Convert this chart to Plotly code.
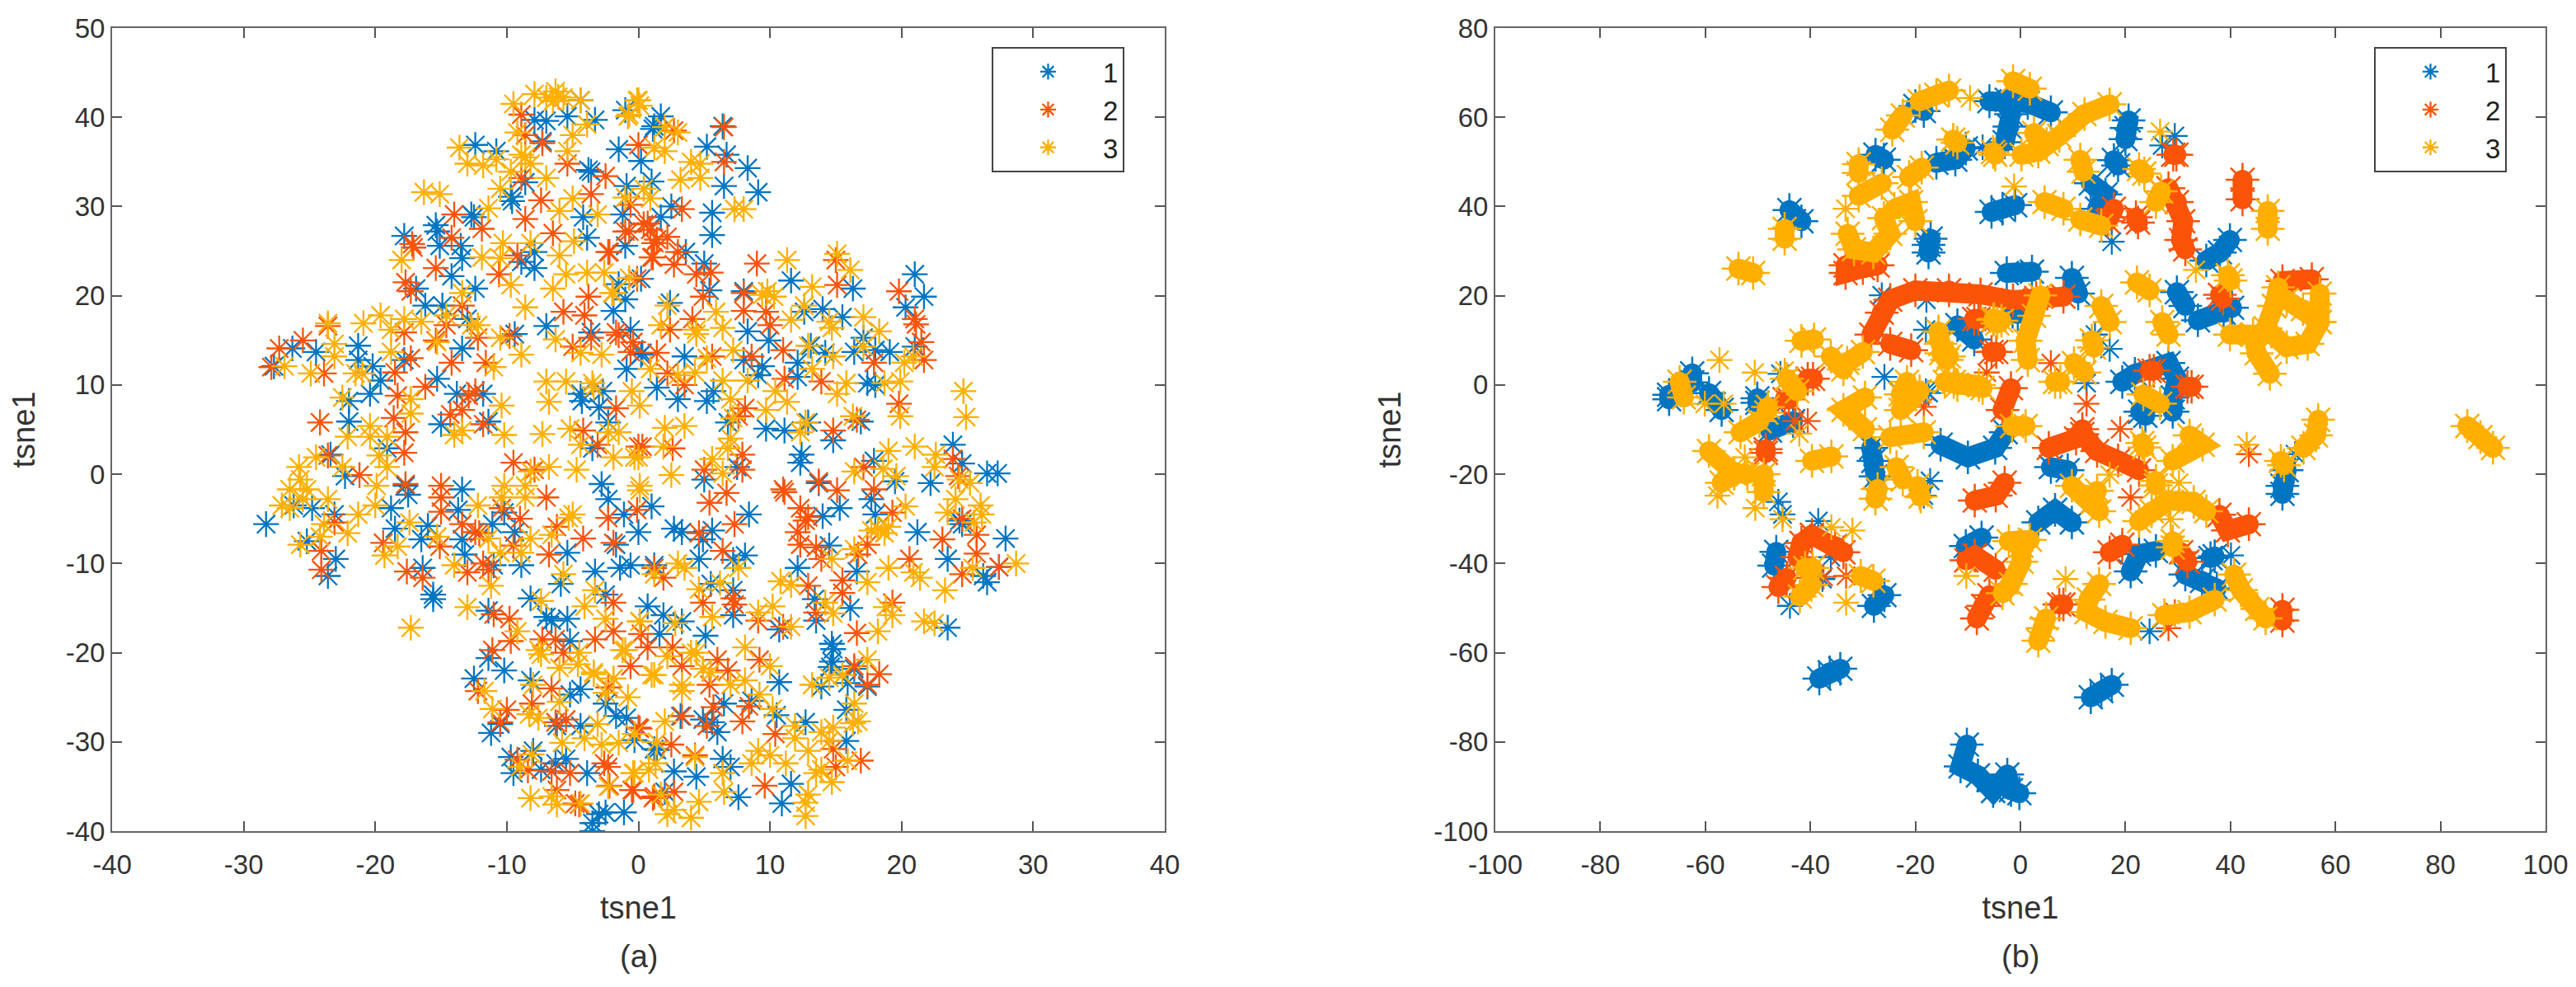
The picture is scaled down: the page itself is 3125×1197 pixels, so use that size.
import plotly.graph_objects as go

BLUE, RED, YEL = "#0075C2", "#FB5308", "#FFAF00"
NAMES = ["1", "2", "3"]
X_TICKS_A = list(range(-40, 41, 10)); Y_TICKS_A = list(range(-40, 51, 10))
X_TICKS_B = list(range(-100, 101, 20)); Y_TICKS_B = list(range(-100, 81, 20))

a_blue = [(-12.4,36.9),(-10.8,36.2),(-7.9,39.7),(-7,39.6),(-5.4,40.1),(-4.4,41.9),(-3.3,39.7),(-1,40.8),(-7.3,37.3),(-3.8,34.1),(-3.6,33.9),(-9.7,31.1),(-9.6,30.6),(-8.6,32.7),(-12.7,29.1),(-12.5,28.8),(-15.4,27.9),(-15.3,27.2),(-17.8,26.7),(-15.1,25.6),(-13.5,25.6),(-13.4,24.2),(-7.9,24.9),(-7.9,23.1),(-8.9,23.8),(-14.2,22.2),(-12.4,20.8),(-16.9,20.8),(-16.2,18.9),(-14.9,18.9),(-13,17.4),(-13.4,14.1),(-21.3,14.4),(-21.3,12.8),(-20.2,12.1),(-19.6,10.5),(-20.4,9),(-24.5,13.7),(-26.3,14.1),(-27.7,12.1),(-17.8,12.8),(-15.3,10.7),(-13.8,9),(-11.8,9),(-22,8.2),(-22,5.9),(-15,5.6),(-11.4,5.9),(-9.4,15.7),(-19.1,2.9),(-23.4,2.2),(-22.3,-0.2),(-17.7,-1.3),(-13.4,-1.7),(-7,16.6),(-3.6,15.9),(-0.6,16.2),(0.2,13.4),(-0.9,11.8),(-4.4,9),(-4.3,8.2),(-2.7,9.3),(-3,7.5),(-2.3,5.8),(-3.5,2.9),(-2.8,-1.1),(-1.5,21.3),(0.2,21.9),(-1,19.6),(-1.9,18.3),(-1,25.6),(-3.9,26.5),(-4.2,28.8),(-1.2,29.1),(-0.9,32.3),(1,32.8),(-1.5,36.4),(0.2,35.1),(1.2,39),(1.7,40.1),(1.1,38.7),(6.4,39),(5.2,36.7),(6.7,35.8),(8.3,34.3),(6.5,32.3),(9.1,31.6),(5.6,29.3),(5.6,26.8),(2.5,30),(1.7,28.8),(3.6,24.9),(5,23.6),(5.4,20.6),(11.6,21.7),(21,22.4),(21.7,19.9),(20.3,18.7),(16.3,20.8),(8,20.5),(12.6,18.2),(15.5,17.6),(14,18.5),(2.4,19.2),(8.3,16),(9.9,15),(3.5,13.2),(0.3,13.6),(8,12.8),(9.4,12.1),(12.1,12.5),(12.1,10.9),(9.1,11.1),(13.1,14.4),(14.2,13.6),(17.1,15.3),(16.4,13.7),(18,13.9),(19.1,13.7),(21,14.3),(17.4,10.2),(18,10),(1.4,9.7),(3,8.4),(5.2,8.2),(5.7,9.3),(6.8,5.8),(9.7,5.1),(11.1,4.9),(12.9,5.8),(14.8,3.8),(16.9,5.9),(12.4,2.2),(12.3,1.3),(17.9,1.5),(19.5,-0.8),(23.9,3.3),(24.6,1.2),(26.5,0.1),(27.3,0.1),(7.5,0.8),(5,-0.6),(22.2,-1),(13.7,-1),
(-28.3,-5.6),(-25.2,-7.5),(-26.2,-3.5),(-24.8,-3.8),(-23,-9.5),(-23.6,-11.4),(-23.1,-4.5),(-18.8,-3.8),(-18.5,-6.1),(-17.5,-2.3),(-16,-5.8),(-16.5,-7.3),(-16.4,-10.5),(-15.6,-13.5),(-15.6,-14),(-13.7,-4),(-13.4,-7.3),(-13.2,-9),(-11.1,-5.6),(-11,-10.2),(-9.4,-6.5),(-10.2,-4.3),(-8.9,-10.2),(-11.4,-15.3),(-11.4,-20.6),(-10.2,-22),(-12.5,-22.9),(-8.2,-13.9),(-7,-16),(-6.6,-16.4),(-5.4,-16.2),(-5.2,-18.7),(-5.4,-8.8),(-5.9,-12.3),(-3.3,-10.9),(-1.4,-10.5),(-0.6,-10.2),(-2.5,-13.5),(0.7,-14.8),(-1.7,-7.9),(-1.1,-4.5),(0,-6.5),(1,-3.6),(-2.3,-2.8),(-8.2,-23.1),(-4.4,-24.1),(-5.2,-24.7),(-2.5,-25.7),(-1.7,-27.1),(-0.9,-27.3),(-4.4,-28.2),(-6.2,-28.2),(-11.2,-29),(-10.5,-28),(-0.3,-29.8),(1.2,-30.8),(-9.7,-31.7),(-8,-31),(-9.5,-33.5),(-7.4,-33.1),(-6.3,-32.4),(-5.5,-31.9),(-3.9,-33.5),(-2.5,-37.9),(-3,-38.1),(-1.1,-37.9),(-3.5,-39.1),(-3.5,-40),
(8.4,-4.5),(2.7,-6.1),(3.3,-6.5),(4.9,-7.3),(5.6,-6.3),(7.2,-9.6),(8.1,-9.1),(4.6,-9.5),(1.2,-10.2),(5.5,-12.3),(7.2,-13),(1.9,-15.8),(7.2,-15.8),(3.3,-16.5),(1.6,-17.9),(5.1,-18.1),(12.1,-10.5),(13.4,-14),(16.1,-15),(13.5,-16.4),(10.7,-17.4),(14,-4.7),(15.3,-3.8),(17.7,-2.8),(18,-4.5),(14.5,-8),(16.6,-10.9),(21.2,-6.5),(23.5,-9.5),(24.4,-5.2),(24.6,-5.6),(26.2,-11.4),(26.5,-12.1),(27.9,-7.2),(27.4,-10.4),(23.5,-17.2),(14.7,-19),(14.8,-19.6),(14.7,-21),(14.6,-21.6),(13.9,-23.8),(10.7,-23.3),(15.9,-23.4),(17.4,-23.8),(16.4,-21.8),(15.8,-26.4),(12.7,-27.8),(10.5,-27),(8.6,-25.4),(6.5,-25.7),(3.2,-27.1),(4.9,-27.5),(5.6,-27.8),(6,-28.9),(15.8,-29.9),(1.4,-30.9),(6.4,-31.9),(7,-32.8),(2.7,-33.3),(4.4,-33.9),(11.6,-34.7),(10.9,-36.9),(7.6,-36.2),(2,-35.6)]

a_red = [(-8.9,40.3),(-7.3,37.1),(-8.6,38),(-5.4,34.8),(-8.9,33.2),(-7.4,30.7),(-3.6,31.4),(-2.5,33.4),(-0.6,30.2),(0.7,28.1),(-0.7,27.2),(1.2,25.9),(1,24.3),(-2.2,24.9),(-6.5,27),(-8.6,28.6),(-14,29.1),(-11.9,27.5),(-14.2,26.5),(-17.2,25.8),(-17.1,25.4),(-15.4,23.1),(-9.2,24.5),(-10.6,22.4),(-17.7,21.5),(-17.3,20.5),(-13.4,18.9),(-14.6,16.7),(-17.8,15.9),(-15.4,15),(-12.2,15.3),(-9.8,15.5),(-23.6,16.6),(-25.5,15),(-27.3,14.1),(-27.9,12),(-23.9,11.3),(-18.5,11.4),(-17.3,13),(-14.2,12.5),(-11.6,12.5),(-12.4,9.3),(-12.9,8.8),(-16.2,9.8),(-18.3,8.8),(-13.4,7.2),(-14.3,6.7),(-18.6,6.3),(-17.7,4.7),(-17.8,2.4),(-11.8,5.6),(-24.2,5.8),(-23.6,2.1),(-9.5,1.3),(-21.2,-0.1),(-17.7,-1.1),(-15,-1.3),(-7.9,0.5),(-5.7,18.2),(-4.1,17.8),(-3.8,19.9),(-0.1,21.9),(-1.7,15.9),(-1.5,15.6),(-3.6,15.3),(-5,14.3),(-0.6,13.7),(-1.7,7.4),(-4.2,4.9),(0,3.1),(-3.1,3.3),(0,36.9),(6.5,38.9),(2.7,38.5),(6.5,35),(3.3,29.7),(0.4,28),(-1,27.2),(0.9,27.4),(1.4,26.3),(2.2,26.6),(1.1,24.3),(3,24.9),(2.7,23.5),(4.4,22.4),(5.5,22.6),(-2.3,24.9),(9,23.6),(15,24),(15.1,21.2),(4.9,19.9),(8,20.3),(19.8,20.5),(21,17.4),(21.1,16.8),(8,18.3),(9.7,18.2),(10,16.7),(4.1,17.4),(2.4,16.2),(-0.4,14.8),(1.4,13.6),(5.6,13.2),(8.6,13.2),(11,13.9),(17.9,12.5),(21.5,14.8),(21.7,12.8),(2.2,11.3),(3.5,10),(11.1,10.7),(13.9,10.4),(8.1,7.4),(19.8,7.9),(7.6,6.5),(14.8,4.9),(16.6,6.1),(0.3,3.1),(2.6,2.9),(7.9,2.2),(7.9,0.5),(23.9,1.7),(17.1,0.8),(5,0.5),(13.7,-0.8),(15.1,-1.8),(11,-1.7),(17.9,-1.7),(24.3,-0.2),
(-23.1,-5.4),(-24.1,-8.6),(-24.1,-10.7),(-19.4,-7.7),(-17.6,-10.9),(-16.4,-11.6),(-15.1,-8.1),(-15,-4.2),(-15,-2.6),(-13.4,-5.6),(-12.4,-6.5),(-12.1,-6.6),(-11.8,-10),(-11.4,-10.7),(-13,-11),(-10.4,-3.8),(-9,-5),(-9.5,-8),(-11,-15.7),(-9.8,-16.2),(-9.7,-18.7),(-11.1,-19.7),(-12.2,-24.3),(-10,-26.4),(-10.5,-27.8),(-8.1,-25.7),(-6.6,-24),(-5.5,-27.5),(-6.3,-27.8),(-9.2,-32),(-8.4,-33.2),(-6.6,-33.3),(-5.2,-33.5),(-6.2,-35.4),(-4.8,-36.9),(-2.3,-32.8),(-2.2,-34.9),(-0.4,-35.4),(1.2,-36.1),(0.1,-28.5),(-0.6,-21.5),(-2.3,-23.9),(0.7,-19.4),(0.2,-17.9),(-1.9,-17.6),(-3.3,-18.5),(-1.9,-14.4),(-7.3,-18.5),(-6.3,-18.5),(-5.7,-20),(-6.8,-9),(-4.2,-7.2),(-6.2,-5.9),(-2.3,-4.9),(-0.1,-4),(-1.9,-7.7),(1.2,-10.5),(-7,-2.6),
(1.9,-11.6),(2.6,-19.4),(3.3,-21.5),(6,-20.8),(6.8,-22),(5.4,-23.6),(4.9,-14.4),(7.2,-13.9),(7.3,-14.6),(6.7,-2.1),(5.4,-3.2),(4.6,-6.6),(6.4,-8.6),(7.3,-5.6),(11.1,-2),(12.3,-3.8),(12.7,-5.2),(12.9,-4.8),(12.1,-6.5),(12.3,-7.9),(13.5,-8.2),(13.9,-9.5),(15.5,-11.9),(15.5,-13.3),(12.9,-12.5),(13.5,-15.5),(17.4,-7.9),(16.7,-9),(16.6,-17.8),(20.6,-9.5),(19.3,-14.4),(23.1,-7.3),(25.7,-6.8),(25.7,-8.9),(24.6,-11.2),(27.4,-10.4),(24.6,-5),(19.3,-4.3),(9.2,-20.8),(11,-17.1),(9.1,-16.4),(18.3,-22.4),(16.4,-21.5),(17.4,-23.6),(3.3,-27.1),(5.7,-26.1),(5.2,-28.2),(8.4,-26),(7.9,-27.7),(10.4,-29.1),(0,-28.4),(-2.6,-32.4),(2.5,-30.3),(4.3,-31.5),(-0.5,-35.4),(2.7,-35.6),(1.1,-36.3),(9.6,-34.9),(14.8,-30.8),(16.9,-32.1),(15,-32.8),(-4.5,-37)]

a_yel = [(-6.3,42.9),(-6.1,42.3),(-7,42.2),(-6.5,41.8),(-5.7,42.2),(-7.9,42.6),(-9.5,41.5),(-4.4,41.9),(-0.1,41.9),(-0.7,40.3),(-3.9,39.2),(-9.2,38.3),(-13.6,36.6),(-13,34.8),(-11.8,34.6),(-10.8,35.3),(-8.6,35.5),(-8.2,34.8),(-8.9,35.8),(-5,38),(-5.4,36.2),(-9.7,33.9),(-7,33.2),(-10.5,32),(-5,30.9),(-3.1,29.1),(-6,29.5),(-11.4,29.8),(-16.3,31.6),(-15.1,31.4),(-6,24.5),(-4.9,26.1),(-8.2,25.9),(-10.3,25.9),(-10.5,24.2),(-11.9,24.3),(-18,24),(-9.7,21.2),(-5.5,22.4),(-3.9,22.6),(-2.6,22.6),(-6.5,20.8),(-1.9,20.3),(-8.6,18.7),(-13.4,20.3),(-12.7,16.7),(-12.2,16.7),(-14.6,17.8),(-16.5,17.1),(-18.8,16.2),(-17.8,17.4),(-19.6,17.8),(-20.9,16.9),(-23.6,16.9),(-23.1,14.6),(-23.1,13.2),(-18.8,13.7),(-15.3,14.8),(-8.9,13.4),(-10.5,15.3),(-6.3,15.1),(-2.8,13.4),(-4.4,13.6),(-26.9,12.1),(-24.9,11.3),(-21.5,11.3),(-21,11.3),(-11,12),(-10.4,7.7),(-7,10.4),(-5.5,10.4),(-6.8,8.1),(-3.5,10.2),(-22.5,8.6),(-17.3,8.4),(-17.3,6.8),(-22.1,4.2),(-20.4,5.4),(-20.4,4.2),(-19.1,4.2),(-13.4,4.9),(-14,4.4),(-10.2,4.4),(-7.3,4.5),(-5.2,5.1),(-4.4,3.3),(-2.3,4.7),(-1.9,1.9),(-19.7,2.1),(-19.1,0.8),(-24.5,1.9),(-25.8,0.8),(-25.7,-0.6),(-22.5,0.8),(-10.2,-1.3),(-8.2,0.3),(-6.8,0.8),(-4.7,0.5),(-8.6,-1.3),(0.1,-1.3),(-0.3,1.9),(-19.9,-1.3),(-26.5,-1.7),(-25.2,-1.7),
(0,41.9),(0.1,41.3),(-0.8,40.1),(2,38.9),(3,38.3),(1.2,36.6),(2,36.2),(4,35),(4.7,34.8),(3.2,33),(4.7,33.2),(0.4,32),(7.3,29.7),(8,29.7),(0.9,30.9),(-1,31),(11.3,24),(15.1,24.7),(16.1,22.9),(-0.7,22),(13.2,21),(9.4,20.1),(10.3,19.9),(9.8,20.5),(-2,20.3),(2.2,18.9),(5.9,18.2),(6.4,16.4),(1.7,16.7),(4.4,15.7),(4.4,16.2),(11.6,17.3),(12.6,18.9),(14.5,17.1),(14.7,16.4),(17.1,17.6),(18.3,16),(17.1,14.3),(7.2,13.9),(5.2,13),(12.9,14.4),(14.8,13.2),(13.2,11.8),(0.9,11.8),(4.3,11.4),(3,11.1),(6.4,10.5),(8.3,10.5),(15.8,10.2),(19.9,10.4),(18.7,10.2),(15.1,9),(20.2,12.5),(20.9,13.2),(24.7,9.3),(24.9,6.4),(19.9,6.5),(7,8.4),(0.1,7.7),(-0.5,9.3),(-3.4,9.7),(10.4,9.3),(11.3,8.1),(9.7,7.2),(7.2,6.3),(3.5,5.4),(2,5.2),(-1.5,4.7),(12.7,5.8),(12.3,4.7),(16.3,6.5),(7,4),(6.8,2.9),(1.9,3.1),(0,1.9),(2.5,-0.1),(5.6,1.7),(19,2.6),(21,3.1),(22.6,2.2),(22.5,0.8),(16.4,0.3),(18.6,0.6),(19.6,-0.2),(24.4,-0.6),(25.2,-1),(0.1,-1.8),(6.4,0.1),
(-27.1,-3.5),(-26.5,-3.8),(-25.5,-2.8),(-23.6,-2.8),(-22.1,-6.6),(-24.2,-7),(-25.7,-7.9),(-23.9,-5.6),(-21.3,-4.5),(-20,-3.5),(-17.4,-5.4),(-18.3,-8.1),(-19.3,-9.1),(-15.3,-7),(-14,-10.2),(-12.2,-3.5),(-10.4,-2.6),(-8.6,-2.6),(-11.4,-7.2),(-11.2,-12.5),(-8.9,-8.8),(-10.5,-8.8),(-8.2,-7.2),(-6.6,-6.8),(-5,-4.5),(-5.3,-4.9),(-5.7,-11.2),(-13,-14.9),(-17.3,-17.2),(-7.4,-14.2),(-3.3,-13),(-4.1,-14.8),(-2.5,-16.2),(0.1,-16.5),(-9.2,-17.6),(-7.6,-19.7),(-7.4,-20.2),(-4.5,-20),(-4.6,-21.3),(-3.4,-22.4),(-6,-21.7),(-1.2,-19.7),(1,-22.5),(-1.9,-22.9),(-2.5,-24.5),(-0.8,-25),(-6,-25.5),(-11.7,-24.3),(-11.1,-26.3),(-8,-23.6),(-8.3,-26.9),(-7.6,-27.3),(-3.1,-28),(-4.1,-29.6),(-5.8,-30.1),(-2.8,-30.3),(-1.5,-30.1),(-0.3,-29.1),(-8.1,-31.4),(-9,-32.8),(-0.3,-33.5),(1.3,-32.4),(-2.3,-35),(-8.2,-36.3),(-6.6,-36.1),(-6.2,-37),(-4.4,-36.9),
(18.2,-6.1),(18.7,-6.6),(17.7,-6.3),(19,-5.9),(19,-10.5),(17.4,-12.1),(20.9,-11),(21.4,-11.6),(23.3,-13),(20.3,-3.6),(26,-3.5),(26.1,-4.5),(25.5,-5.4),(24.1,-2.8),(23.5,-4.3),(28.7,-10),(25.4,-10.5),(21.7,-16.5),(22.5,-16.7),(19.3,-15.8),(18.8,-14.9),(18.2,-17.6),(16.4,-8.4),(14.7,-9.5),(14.2,-14.4),(14.8,-15.6),(11.6,-17.1),(11.6,-12.4),(10.8,-12),(8.1,-19.4),(9.1,-15.5),(10.2,-14.8),(7.6,-10.5),(6.2,-12.2),(4.6,-12.9),(3.5,-10.5),(1.2,-11.2),(3,-10),(0.1,-16.5),(2.8,-16.7),(5.6,-16),(4.4,-20),(4.9,-21.8),(4,-20),(5.5,-22.2),(2.2,-20.4),(1.2,-22.5),(-1,-19.7),(-1.9,-22.9),(-3.4,-22.2),(3.3,-23.6),(3.3,-24.3),(7,-23.6),(8.1,-23.1),(9.2,-24.7),(10,-21.5),(10.2,-26.3),(13.2,-23.6),(14.5,-22.8),(17.4,-20.8),(15.5,-22.5),(16.4,-25.7),(16.7,-27.7),(16.3,-27.9),(11.9,-28.2),(13.9,-28.9),(14.8,-28.4),(2,-27.7),(11.9,-29.6),(12.9,-31),(9.1,-31),(10,-31.5),(8.6,-32.4),(11.2,-32.4),(6.4,-33.5),(6.5,-35.6),(4.3,-31.7),(4.6,-36.7),(1.4,-30),(-0.4,-33.5),(0.8,-33.1),(1.7,-35.9),(2.2,-38.1),(2.7,-37.6),(4,-38.5),(12.9,-35.9),(12.7,-36.8),(12.7,-38.3),(13.5,-33.5),(14.7,-34.5),(13.9,-33.1),(15.9,-32.1),(14.5,-29.9)]

# Panel (b): the clusters are read as runs of closely spaced points
b_blue_runs = [[(-44,39.2),(-41.7,36.7)],[(-27.6,51.6),(-26,50.5)],[(-20,62.5),(-18.4,61.4)],[(-16,49.8),(-12.4,50.5),(-10.4,53)],[(-5.9,63.6),(-2.6,63.9),(1.4,63.2),(5.8,61.1)],[(-1.8,60.7),(-2.1,57.9),(-3,54.4)],[(20.6,59.3),(20.2,57.6),(20,55.1)],[(17.8,50.4),(18.6,49.2)],[(-5.5,38.8),(-3.4,39.5),(-1,40.3)],[(-17.1,32.8),(-17.5,31.4),(-17.5,29.7)],[(13.4,45.2),(16.2,42.7),(14.6,39.5)],[(39.9,32.5),(38,29.7),(35.4,27.9)],[(-2.6,25.1),(2.2,25.4)],[(9.8,24),(11,20.5)],[(29.8,20.8),(31.4,17.7)],[(33.8,14.5),(38.7,16.2),(40.3,17.3)],[(-12,13.4),(-8.8,10.2)],[(-1.5,16.4),(-0.5,15.9)],[(19.4,0.7),(21.8,2.5),(28.2,4.9),(29.8,1.4),(29,-2.8),(29,-6)],[(22.8,-6),(23.8,-6.9)],[(-66.9,-2.2),(-66.9,-3.2)],[(-62.5,2.6),(-62.5,0.6)],[(-59.3,-1.8),(-56.9,-5.6)],[(-50.1,-3),(-50.1,-4)],[(-47.7,-10.2),(-43.3,-8.1)],[(-15.2,-13.4),(-10,-16.2),(-4.8,-14.1),(-2.8,-10.6)],[(-28.4,-14.1),(-28,-17),(-27.6,-20.5)],[(5.8,-18.4),(9,-19.1)],[(49.9,-24.4),(49.9,-22.6),(50.7,-19.1)],[(-46.5,-37.4),(-46.9,-40.5)],[(-27.9,-49.5),(-25.9,-47.1)],[(-38.3,-65.8),(-36.3,-64.4),(-34.3,-63.6)],[(-10.2,-80.6),(-11.4,-85.5),(-8.1,-87.5),(-5.2,-91),(-2.5,-87.3),(-1.8,-90.8),(-0.2,-91.5)],[(13.4,-70),(15.4,-68.6),(17.4,-67.2)],[(-10.4,-36.1),(-7.4,-34.2)],[(3.4,-30.8),(6.6,-28),(9.8,-30.8)],[(21,-41.8),(22.6,-37.9),(25.8,-37.2)],[(31.4,-42.5),(34.6,-43.9),(37.4,-45.6)],[(36.2,-38.8),(37,-38.4)]]
b_blue_stars = [(-7.2,53.3),(29.4,55.8),(27,53.7),(17.4,32.1),(-17.9,19.1),(-26.4,20.1),(-18,12.4),(14.2,11.3),(17,8.1),(12.6,0.4),(-17.5,-1.8),(-25.9,1.8),(-18,-1.4),(-45.7,2.5),(-17.2,-21.5),(52.3,-15.5),(-43.9,-49.5),(24.6,-55.2),(40.1,-38.2),(-38.5,-30.5),(-37.7,-43.5),(-36.1,-38.6),(-46.1,-26.2),(-45.3,-29),(-18.4,-24.8)]

b_red_runs = [[(-33.3,26.8),(-33.3,25.1),(-30,26.2),(-27.2,26.8)],[(-28.4,11.3),(-26.4,16.2),(-24.8,19.1),(-20,21.2),(-13.6,21.2),(-7.6,20.3),(-1.4,19),(3,19.5),(8.2,19.8)],[(-24.8,9.2),(-20.8,7.8)],[(-5.5,7.4),(-4.6,7.4)],[(-8.8,14.8),(-8,14.8)],[(-40.5,1.4),(-39.5,1.4)],[(-44.9,-3.2),(-44.1,-3.2)],[(-48.5,-14.4),(-48.5,-15.2)],[(-1.8,-0.7),(-3.4,-5.6)],[(29.1,51.6),(29.7,51.6)],[(42.3,46),(42.3,41.6)],[(28.2,44.1),(29.8,41),(31,36.7),(30.6,32.5),(31.4,30.4)],[(17.8,39.5),(16.6,36.7)],[(22,37.6),(22.4,36.4)],[(49.9,23.3),(55.5,23.7)],[(38,20.2),(38.6,19.4)],[(24.6,3.2),(25.4,3.2)],[(31.8,-0.4),(32.6,-0.4)],[(5.4,-14.1),(10.6,-12),(11.8,-9.9)],[(11.8,-11),(14.6,-14.8),(18.6,-16.9),(22.6,-19.1)],[(-8.7,-25.9),(-4.7,-24.8),(-3,-21.9)],[(-10.3,-39.3),(-8.7,-38.2),(-4.7,-41.4)],[(-8.3,-52.3),(-7.1,-49.5),(-5.9,-47.1)],[(7.4,-49.2),(8.2,-49.2)],[(17,-37.5),(19.4,-35.8)],[(30.6,-37.5),(31.8,-39.6)],[(37.9,-29.1),(39.5,-32.6),(43.5,-31.2)],[(49.9,-50.4),(49.9,-52.8)],[(-42.5,-38.6),(-41.7,-35.4),(-39.7,-33.6),(-35.3,-36.1),(-33.7,-37.5)],[(-46.1,-45.3),(-44.5,-43.2)]]
b_red_stars = [(-42.9,-8.1),(-40.5,-8.1),(-18.4,-4.9),(-6.4,2.8),(5.8,4.9),(12.6,-4.2),(19,-9.9),(43.5,-15.5),(21,-25.2),(29.4,-50.9),(28.2,-54.5),(-33.2,-42.8),(-37.5,-43)]

b_yel_runs = [[(-19.2,63.6),(-16,65),(-13.6,66)],[(-24.4,57.2),(-22.4,60.4)],[(-12.8,55),(-12,54.3)],[(-30.8,49.5),(-30.8,47.5)],[(-30.8,42.4),(-26.4,45.2)],[(-21.2,46.6),(-18.8,48.7)],[(-24,39.5),(-20.8,41),(-20,36.7)],[(-32.9,33.9),(-31.7,30.4),(-28,29.7),(-24.8,33.9),(-26,37.4)],[(-44.9,35),(-44.9,32.8)],[(-53.7,26.1),(-50.9,25.1)],[(-41.7,9.9),(-39.3,10.2)],[(-36.1,6.4),(-33.7,3.5)],[(-33,5),(-30,7.4)],[(-64.9,0.7),(-64.1,-2.8)],[(-44.5,1.4),(-42.5,-1.4)],[(-48.1,-4.9),(-48.4,-6.2)],[(-53.3,-10.6),(-49.7,-8.1)],[(-21.6,0.7),(-22.8,-2.1)],[(-19.2,-1.4),(-22.8,-5.6)],[(-29.6,-2.8),(-33.7,-5.6),(-29.6,-9.9)],[(-24.8,-11.7),(-18.4,-10.6)],[(-15.6,12),(-15.2,9.2),(-13.6,6.4)],[(-14.4,0.7),(-12,0),(-7.2,-0.7)],[(-5.2,14.6),(-4.4,13.8)],[(-39.7,-17),(-36,-16)],[(-59.3,-14.8),(-54.5,-19.8),(-56.9,-21.9)],[(-52,-20),(-54.5,-19.8)],[(-48.9,-20),(-48.9,-24)],[(-23.6,-18.4),(-22.4,-21.2)],[(-19.6,-22.6),(-19,-25)],[(-27.2,-23.3),(-27.6,-25.5)],
[(-1.4,68.1),(1.8,66.4)],[(-5.2,52.2),(-4.8,51.6)],[(0.2,51.6),(3.4,52.3),(7.4,55.8),(12.2,60.7),(17,62.9)],[(2.6,56.5),(5,54)],[(11.4,50.5),(12,47.8)],[(22.6,48.4),(23.6,47.4)],[(25.8,41),(26.8,43.4)],[(4.6,41),(8.2,39.5)],[(11.4,37.1),(15.4,35.7)],[(47.1,39),(47.1,35)],[(39.5,24.6),(40,23.4)],[(22.2,23),(24.6,21.2)],[(27,14.1),(28.2,11.3)],[(3.8,20.1),(2.6,15.5),(1,9.9),(1.4,5.6)],[(15.4,17.7),(17,14.1)],[(-5,14.8),(-3.6,14.4)],[(10.2,4.9),(12.2,2.8)],[(6.6,0.7),(7.6,0.7)],[(13.6,10),(14,8.4)],[(-15.1,7.1),(-14,5.6)],[(-12.7,0.7),(-7.9,0)],[(23.4,-2.1),(26.6,-4.2)],[(-1.6,-9.2),(1,-9.2)],[(39.9,11.3),(44.3,11.3),(45,7.1),(47.5,2.5)],[(48.3,17.7),(46.7,12.7),(50.7,8.5),(54.7,9.2),(57,14.1),(57,20.5)],[(50.7,19.1),(53.8,17),(57,14.1)],[(49.1,21.9),(48.3,17.7)],[(56.7,-7.8),(56.3,-11.3),(53.9,-14.1)],[(85.1,-9.2),(87.6,-11.7),(90,-14.1)],[(49.6,-17),(50.2,-18)],[(23.2,-13),(23.6,-14)],[(32.2,-11.3),(34.7,-13.4),(29,-17)],[(25.8,-21.5),(25.8,-22.5)],[(9.8,-22.6),(13.8,-26.2),(15,-28.3)],[(14.6,-23.7),(13.8,-26.2)],
[(22.6,-30.5),(25,-28.3),(28.2,-25.9),(33,-26.2),(35.4,-28.3)],[(29,-35),(29,-36.4)],[(-2.2,-35),(1.8,-34.7)],[(0.2,-36),(0.2,-39.6),(-1.8,-44.6),(-3.4,-46.7)],[(15,-44.6),(13,-48.1),(12.6,-50.9),(16.2,-53.1),(21,-54.5)],[(3.4,-57.3),(4.2,-54.5),(4.9,-52.3)],[(27.4,-51.6),(32.2,-50.9),(37,-48.1)],[(40.7,-42.5),(42,-46),(45.1,-50.2),(46.7,-52.3)],[(-41,-41),(-39.6,-41)],[(-42,-47.4),(-39.8,-44.8)],[(-30.4,-42.8),(-28,-43.9)]]
b_yel_stars = [(-9.6,64.3),(-33.3,39.5),(-57.3,5.6),(-50.6,2.8),(-44.9,3.2),(-60.1,-4.2),(-56.5,-4.2),(-42.1,-10.9),(-52.5,-16.2),(-1.2,44.5),(26.6,56.8),(33.4,25.8),(43.1,-13.4),(30.2,-21.9),(17,-20.1),(28.6,-30.1),(-10.3,-42.8),(8.6,-43.5),(-36,-31.9),(-32,-32.6),(-33.2,-48.8),(-45.3,-30.1),(-50.5,-27.6),(-57.7,-24.8),(-19.2,-25.2)]


def unzip(pts):
    return [p[0] for p in pts], [p[1] for p in pts]


def join_runs(runs):
    xs, ys = [], []
    for run in runs:
        rx, ry = unzip(run)
        xs += rx + [None]
        ys += ry + [None]
    return xs, ys


def star(color, size=26, width=2.3):
    return dict(symbol="asterisk-open", size=size, color=color, line=dict(color=color, width=width))


FONT = "Liberation Sans"
TXT = "#333333"
fig = go.Figure()

for pts, col, name in zip((a_blue, a_red, a_yel), (BLUE, RED, YEL), NAMES):
    x, y = unzip(pts)
    fig.add_trace(go.Scatter(x=x, y=y, mode="markers", name=name, marker=star(col), xaxis="x", yaxis="y", legend="legend"))

for runs, stars, col, name in zip((b_blue_runs, b_red_runs, b_yel_runs), (b_blue_stars, b_red_stars, b_yel_stars), (BLUE, RED, YEL), NAMES):
    x, y = join_runs(runs)
    fig.add_trace(go.Scatter(x=x, y=y, mode="lines+markers", showlegend=False, line=dict(color=col, width=24),
                             marker=dict(symbol="circle", size=24, color=col), xaxis="x2", yaxis="y2"))
    fig.add_trace(go.Scatter(x=x, y=y, mode="markers", showlegend=False, marker=star(col, 34, 2.5), xaxis="x2", yaxis="y2"))
    x, y = unzip(stars)
    fig.add_trace(go.Scatter(x=x, y=y, mode="markers", name=name, marker=star(col), xaxis="x2", yaxis="y2", legend="legend2"))

# The page body has an 8 px margin, so the figure is 16 px smaller than the window.
W, H = 3109, 1181
OFF = 8
px = lambda v: (v - OFF) / W
py = lambda v: 1 - (v - OFF) / H

ax = dict(showgrid=False, zeroline=False, showline=True, linecolor="#666666", linewidth=2, mirror="ticks",
          ticks="inside", ticklen=12, tickwidth=2, tickcolor="#555555", automargin=False,
          tickfont=dict(family=FONT, size=33, color=TXT))
title = lambda s, off: dict(text=s, font=dict(family=FONT, size=38, color=TXT), standoff=off)
lab = lambda ticks: [str(t) for t in ticks]
leg = dict(xanchor="left", yanchor="top", bordercolor="#444444", borderwidth=2, itemwidth=123,
           font=dict(family=FONT, size=33, color="#222222"), bgcolor="white")

fig.update_layout(
    width=W, height=H, margin=dict(l=0, r=0, t=0, b=0), paper_bgcolor="white", plot_bgcolor="white",
    xaxis=dict(ax, domain=[px(136), px(1413)], range=[-40, 40], tickvals=X_TICKS_A, ticktext=lab(X_TICKS_A), ticklabelstandoff=10, title=title("tsne1", 22), anchor="y"),
    yaxis=dict(ax, domain=[py(1008), py(34)], range=[-40, 50], tickvals=Y_TICKS_A, ticktext=lab(Y_TICKS_A), title=title("tsne1", 28), anchor="x"),
    xaxis2=dict(ax, domain=[px(1814), px(3088)], range=[-100, 100], tickvals=X_TICKS_B, ticktext=lab(X_TICKS_B), ticklabelstandoff=10, title=title("tsne1", 22), anchor="y2"),
    yaxis2=dict(ax, domain=[py(1008), py(34)], range=[-100, 80], tickvals=Y_TICKS_B, ticktext=lab(Y_TICKS_B), title=title("tsne1", 28), anchor="x2"),
    legend=dict(leg, x=px(1203), y=py(57)),
    legend2=dict(leg, x=px(2880), y=py(57)),
    annotations=[
        dict(text="(a)", x=0, y=py(1160), xref="x", yref="paper", yanchor="middle", showarrow=False, font=dict(family=FONT, size=38, color=TXT)),
        dict(text="(b)", x=0, y=py(1160), xref="x2", yref="paper", yanchor="middle", showarrow=False, font=dict(family=FONT, size=38, color=TXT)),
    ],
)
fig.write_html("out.html")
